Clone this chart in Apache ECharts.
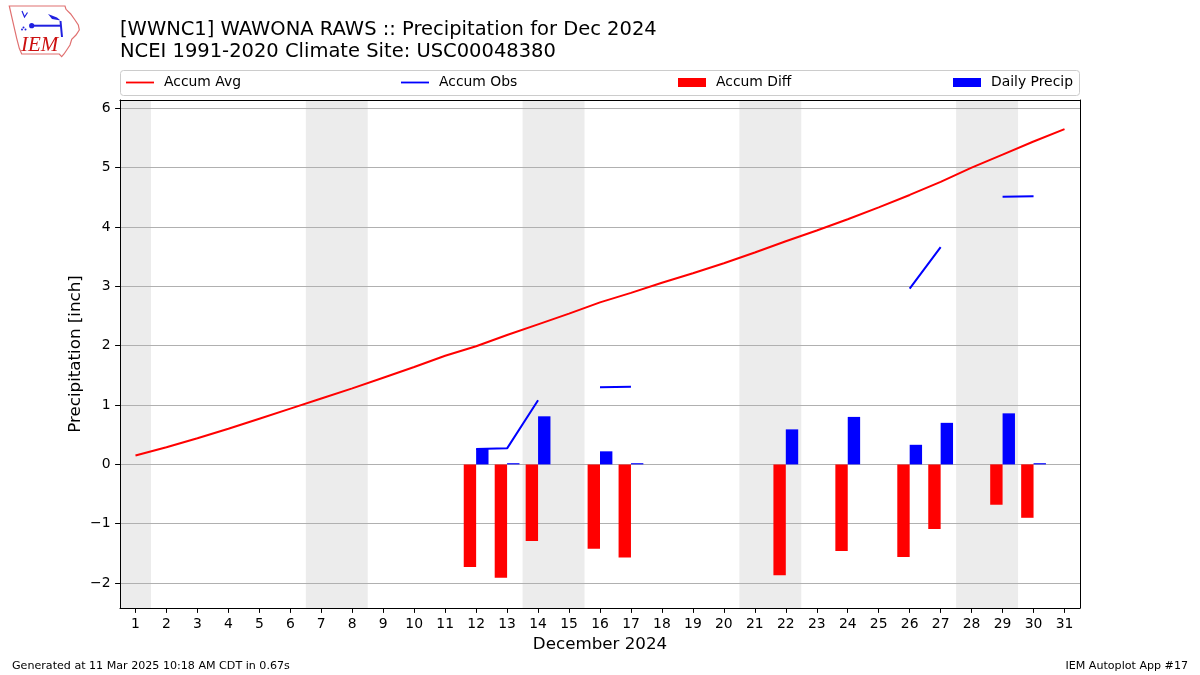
<!DOCTYPE html>
<html><head><meta charset="utf-8">
<script src="https://cdn.jsdelivr.net/npm/echarts@6/dist/echarts.min.js"></script>
<style>html,body{margin:0;padding:0;background:#fff}#c{width:1200px;height:675px}</style>
</head><body><div id="c"></div><script>
// ---- data ----
const days = ['1','2','3','4','5','6','7','8','9','10','11','12','13','14','15','16','17','18','19','20','21','22','23','24','25','26','27','28','29','30','31'];
const accumAvg = [0.15,0.29,0.44,0.60,0.77,0.94,1.11,1.28,1.46,1.64,1.83,1.99,2.18,2.36,2.54,2.73,2.89,3.06,3.22,3.39,3.57,3.76,3.94,4.13,4.33,4.54,4.76,5.00,5.22,5.44,5.65];
const accumObs = [null,null,null,null,null,null,null,null,null,null,null,0.26,0.27,1.08,null,1.30,1.31,null,null,null,null,1.90,null,2.67,null,2.96,3.66,null,4.51,4.52,null];
const accumDiff = [null,null,null,null,null,null,null,null,null,null,null,-1.73,-1.91,-1.29,null,-1.42,-1.57,null,null,null,null,-1.87,null,-1.46,null,-1.56,-1.09,null,-0.68,-0.90,null];
const dailyPrecip = [null,null,null,null,null,null,null,null,null,null,null,0.26,0.02,0.81,null,0.22,0.02,null,null,null,null,0.59,null,0.80,null,0.33,0.70,null,0.86,0.02,null];
const weekendRanges = [[1,1],[7,8],[14,15],[21,22],[28,29]];
const yTicks = [-2,-1,0,1,2,3,4,5,6];
const titleLines = ['[WWNC1] WAWONA RAWS :: Precipitation for Dec 2024','NCEI 1991-2020 Climate Site: USC00048380'];

const FONT = 'DejaVu Sans';
const chart = echarts.init(document.getElementById('c'), null, {renderer:'canvas'});
const lineIcon = 'path://M0,0M0,9M0,3.6L28,3.6L28,5.4L0,5.4Z';
const legendCommon = {orient:'horizontal', padding:0, itemWidth:28, itemHeight:9, top:75.5, selectedMode:false,
  textStyle:{fontSize:13.9, color:'#000', fontFamily:FONT, padding:[0,0,0,5]}};

const option = {
  animation:false,
  backgroundColor:'#fff',
  title:{text:titleLines.join('\n'), left:120, top:19, padding:0,
    textStyle:{fontSize:19.5, fontWeight:'normal', color:'#000', lineHeight:22, fontFamily:FONT}},
  legend:[
    Object.assign({}, legendCommon, {data:[{name:'Accum Avg', icon:lineIcon}], left:126}),
    Object.assign({}, legendCommon, {data:[{name:'Accum Obs', icon:lineIcon}], left:401}),
    Object.assign({}, legendCommon, {data:[{name:'Accum Diff', icon:'rect'}], left:678}),
    Object.assign({}, legendCommon, {data:[{name:'Daily Precip', icon:'rect'}], left:953})
  ],
  grid:{left:120, top:100, width:960, height:508, containLabel:false},
  xAxis:[
    {type:'category', data:days, position:'bottom', boundaryGap:true,
     axisLine:{show:true, onZero:false, lineStyle:{color:'#000', width:1}},
     axisTick:{show:true, alignWithLabel:true, length:4.9, lineStyle:{color:'#000'}},
     axisLabel:{color:'#000', fontSize:13.9, fontFamily:FONT, margin:9.5, interval:0},
     splitLine:{show:false},
     name:'December 2024', nameLocation:'middle', nameGap:28,
     nameTextStyle:{fontSize:16.7, color:'#000', fontFamily:FONT}},
    {type:'value', min:0.5, max:31.5, position:'top',
     axisLine:{show:true, onZero:false, lineStyle:{color:'#000', width:1}},
     axisTick:{show:false}, axisLabel:{show:false}, splitLine:{show:false}}
  ],
  yAxis:[
    {type:'value', min:-2.42, max:6.14, splitNumber:8,
     axisLine:{show:true, onZero:false, lineStyle:{color:'#000', width:1}},
     axisTick:{show:true, length:4.9, lineStyle:{color:'#000'}, customValues:yTicks},
     axisLabel:{color:'#000', fontSize:13.9, fontFamily:FONT, margin:9.5, customValues:yTicks,
       formatter:v=> v<0 ? '\u2212'+(-v) : String(v)},
     splitLine:{show:true, lineStyle:{color:'#b0b0b0', width:1}},
     name:'Precipitation [inch]', nameLocation:'middle', nameGap:36, nameMoveOverlap:false,
     nameTextStyle:{fontSize:16.7, color:'#000', fontFamily:FONT}},
    {type:'value', min:-2.42, max:6.14, position:'right',
     axisLine:{show:true, onZero:false, lineStyle:{color:'#000', width:1}},
     axisTick:{show:false}, axisLabel:{show:false}, splitLine:{show:false}}
  ],
  series:[
    {type:'line', xAxisIndex:1, yAxisIndex:0, data:[], silent:true,
     markArea:{silent:true, z:-1, itemStyle:{color:'#ececec'},
       data: weekendRanges.map(r=>[{xAxis:r[0]-0.5},{xAxis:r[1]+0.5}])}},
    {name:'Accum Avg', type:'line', data:accumAvg, symbol:'none', z:4,
     itemStyle:{color:'#ff0000'}, lineStyle:{color:'#ff0000', width:2}},
    {name:'Accum Obs', type:'line', data:accumObs, symbol:'none', connectNulls:false, z:4,
     itemStyle:{color:'#0000ff'}, lineStyle:{color:'#0000ff', width:2}},
    {name:'Accum Diff', type:'bar', data:accumDiff, barWidth:'40%', barGap:'0%', z:3,
     itemStyle:{color:'#ff0000'}},
    {name:'Daily Precip', type:'bar', data:dailyPrecip, barWidth:'40%', barGap:'0%', z:3,
     itemStyle:{color:'#0000ff'}}
  ],
  graphic:[
    {type:'rect', shape:{x:120.5, y:70.5, width:959, height:25, r:3}, z:-10,
     style:{fill:'#fff', stroke:'#cccccc', lineWidth:1}},
    {type:'text', style:{text:'Generated at 11 Mar 2025 10:18 AM CDT in 0.67s', x:12, y:666, fontSize:11.1, fontFamily:FONT, fill:'#000', verticalAlign:'middle'}},
    {type:'text', style:{text:'IEM Autoplot App #17', x:1188, y:666, fontSize:11.1, fontFamily:FONT, fill:'#000', textAlign:'right', verticalAlign:'middle'}},
    // IEM logo
    {type:'polygon', shape:{points:[[9.3,6],[65,6],[66,9.3],[70.7,14],[75,20],[78.3,25],[79.3,30],[76,35],[71.7,39.3],[70,45],[66.7,50],[64,54],[61.7,56.7],[59.3,54],[21.7,54],[19.3,48.3],[16.7,38.3],[14,26.7],[11.7,16.7]]},
     style:{fill:'none', stroke:'#e07070', lineWidth:1.2}},
    {type:'line', shape:{x1:31.7,y1:25.7,x2:60,y2:25.7}, style:{stroke:'#2020e0', lineWidth:2}},
    {type:'circle', shape:{cx:31.7, cy:25.7, r:2.6}, style:{fill:'#2020e0'}},
    {type:'line', shape:{x1:60.5,y1:21,x2:62,y2:37}, style:{stroke:'#2020e0', lineWidth:2}},
    {type:'polygon', shape:{points:[[48,14],[57,17.5],[60.5,20.5],[52,19]]}, style:{fill:'#2020e0'}},
    {type:'polyline', shape:{points:[[22,11],[24.5,17],[27.5,12.5]]}, style:{stroke:'#2020e0', lineWidth:1.2, fill:'none'}},
    {type:'circle', shape:{cx:23.5, cy:27.5, r:1}, style:{fill:'#2020e0'}},
    {type:'circle', shape:{cx:25.5, cy:29.5, r:1}, style:{fill:'#2020e0'}},
    {type:'circle', shape:{cx:22, cy:29.5, r:1}, style:{fill:'#2020e0'}},
    {type:'text', style:{text:'IEM', x:21, y:56, fontSize:21, fontStyle:'italic', fontFamily:'Liberation Serif', fill:'#cc1111', verticalAlign:'bottom'}}
  ]
};
chart.setOption(option);
</script></body></html>
